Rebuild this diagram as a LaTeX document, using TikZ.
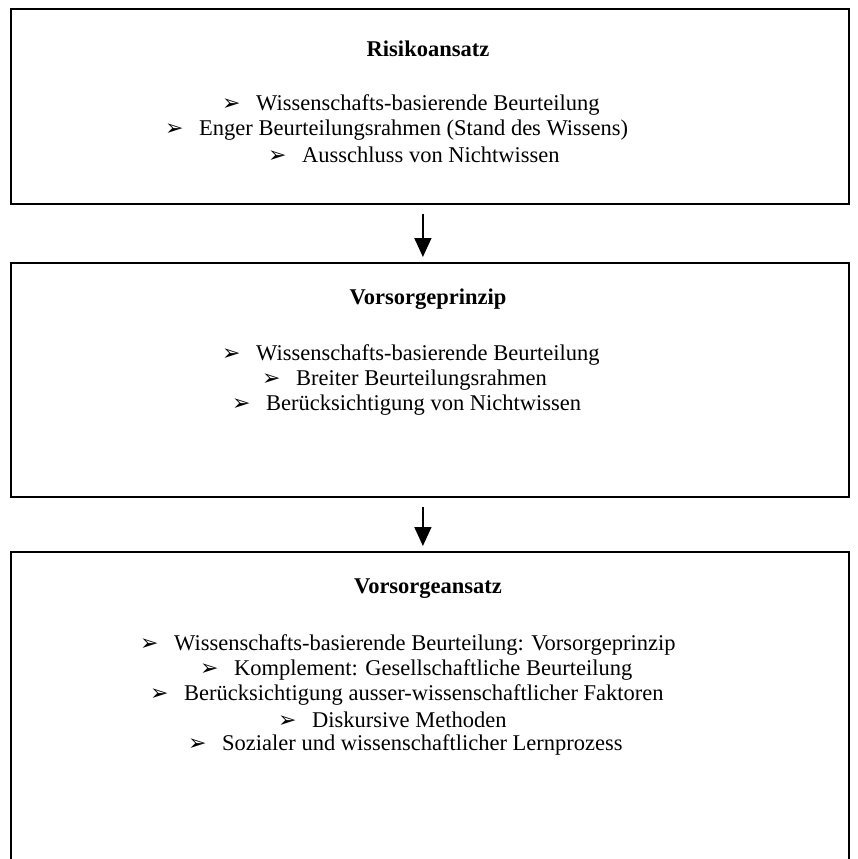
\documentclass[tikz,border=0pt]{standalone}
\usepackage{fontspec}
\setmainfont{Liberation Serif}
\newfontfamily\dingfont{DejaVu Sans}
\usetikzlibrary{arrows.meta, positioning}
\newcommand{\bul}{\makebox[34pt][l]{\dingfont\fontsize{22}{22}\selectfont ➢}}

\begin{document}
\begin{tikzpicture}[
    x=1pt, y=-1pt,
    frame/.style={draw, line width=1.8pt, minimum width=838pt,
                  anchor=north west, inner sep=0pt},
    head/.style={font=\fontsize{22.5}{26}\selectfont\bfseries},
    item/.style={anchor=west, inner sep=0pt,
                 font=\fontsize{22.5}{26}\selectfont},
    flow/.style={line width=1.5pt,
                 -{Triangle[width=17pt, length=19pt]},
                 shorten <=9pt, shorten >=5pt}
  ]
  \useasboundingbox (0,0) rectangle (858,859);
  \clip (0,0) rectangle (858,859);

  % Boxes
  \node[frame, minimum height=195pt] (risk) at (10,8) {};
  \node[frame, minimum height=234pt] (prin) at (10,262) {};
  \node[frame, minimum height=400pt] (appr) at (10,551) {};

  % Risikoansatz
  \node[head] (riskt) at (428,49) {Risikoansatz};
  \node[item] (risk1) at (222,105) {\bul Wissenschafts-basierende Beurteilung};
  \node[item] (risk2) at (165,130) {\bul Enger Beurteilungsrahmen (Stand des Wissens)};
  \node[item] (risk3) at (268,155) {\bul Ausschluss von Nichtwissen};

  % Vorsorgeprinzip
  \node[head] (print) at (428,299) {Vorsorgeprinzip};
  \node[item] (prin1) at (222,355) {\bul Wissenschafts-basierende Beurteilung};
  \node[item] (prin2) at (262,380) {\bul Breiter Beurteilungsrahmen};
  \node[item] (prin3) at (232,405) {\bul Berücksichtigung von Nichtwissen};

  % Vorsorgeansatz
  \node[head] (apprt) at (428,589) {Vorsorgeansatz};
  \node[item] (appr1) at (140,645) {\bul Wissenschafts-basierende Beurteilung: Vorsorgeprinzip};
  \node[item] (appr2) at (200,670) {\bul Komplement: Gesellschaftliche Beurteilung};
  \node[item] (appr3) at (150,695) {\bul Berücksichtigung ausser-wissenschaftlicher Faktoren};
  \node[item] (appr4) at (278,720) {\bul Diskursive Methoden};
  \node[item] (appr5) at (188,745) {\bul Sozialer und wissenschaftlicher Lernprozess};

  % Arrows
  \draw[flow] ([xshift=-7pt]risk.south) -- ([xshift=-7pt]prin.north);
  \draw[flow] ([xshift=-7pt]prin.south) -- ([xshift=-7pt]appr.north);
\end{tikzpicture}
\end{document}
